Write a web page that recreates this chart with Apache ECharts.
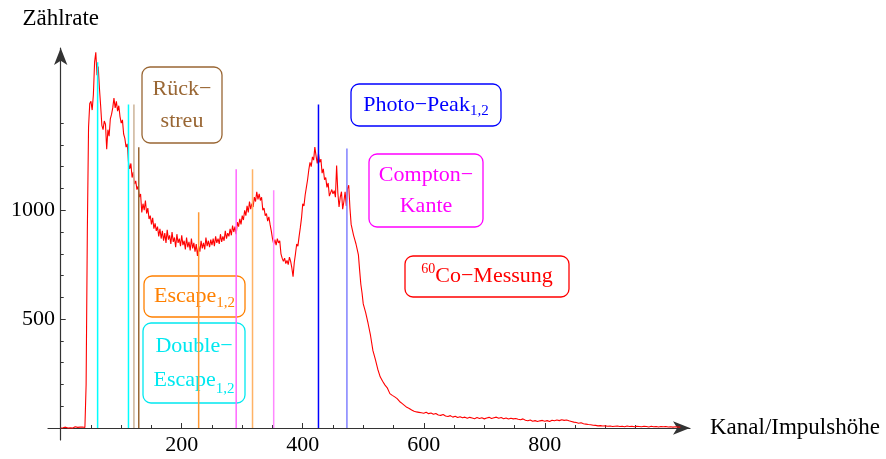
<!DOCTYPE html>
<html>
<head>
<meta charset="utf-8">
<script src="https://cdn.jsdelivr.net/npm/echarts@6/dist/echarts.min.js"></script>
<style>
  html, body { margin: 0; padding: 0; background: #ffffff; }
  #chart { width: 886px; height: 459px; }
</style>
</head>
<body>
<div id="chart"></div>
<script>
// 60Co gamma spectrum, counts per channel.
// Low part: channels 0..498 every 2 channels; high part: channels 500..1024 every 4 channels.
const LOW_START = 0, LOW_STEP = 2;
const countsLow = [
  0, 3, 1, 0, 4, 2, 0, 5, 1, 3,
  0, 2, 6, 1, 3, 0, 4, 2, 5, 1,
  2, 200, 900, 1380, 1490, 1500, 1460, 1530, 1680, 1725,
  1620, 1660, 1560, 1480, 1390, 1370, 1410, 1395, 1280, 1370,
  1340, 1420, 1440, 1470, 1515, 1470, 1500, 1455, 1480, 1430,
  1400, 1415, 1350, 1330, 1290, 1305, 1220, 1190, 1215, 1150,
  1175, 1120, 1135, 1095, 1110, 1060, 1075, 990, 1030, 1000,
  1045, 985, 1010, 960, 975, 935, 965, 915, 940, 905,
  925, 880, 915, 870, 905, 860, 895, 850, 910, 865,
  885, 845, 900, 855, 875, 830, 890, 850, 870, 835,
  885, 840, 860, 820, 875, 830, 855, 815, 870, 825,
  850, 810, 845, 790, 835, 810, 860, 825, 850, 820,
  875, 835, 860, 830, 865, 840, 870, 835, 880, 850,
  870, 845, 890, 855, 880, 860, 905, 870, 895, 880,
  915, 885, 930, 900, 925, 890, 945, 925, 960, 935,
  975, 955, 1000, 975, 1020, 990, 1040, 1005, 1030, 1015,
  1060, 1040, 1085, 1050, 1075, 1045, 1060, 1000, 1010, 975,
  985, 950, 970, 935, 905, 870, 845, 865, 840, 870,
  850, 860, 800, 780, 765, 780, 755, 770, 750, 785,
  765, 735, 695, 760, 800, 845, 835, 880, 920, 965,
  1030, 1020, 1070, 1105, 1140, 1185, 1220, 1200, 1245, 1230,
  1290, 1250, 1215, 1260, 1220, 1235, 1170, 1190, 1140, 1150,
  1105, 1125, 1065, 1080, 1095, 1075, 1090, 1060, 1205, 1080,
  1015, 1060, 1085, 1005, 1040, 1085, 1020, 1100, 1115, 1010,
  935, 910, 885, 865, 845, 820, 795, 725, 660, 620
];
const HIGH_START = 500, HIGH_STEP = 4;
const countsHigh = [
  570, 530, 480, 425, 355,
  315, 270, 235, 215, 197, 183, 158, 150, 143, 135,
  122, 113, 104, 95, 90, 83, 77, 74, 72, 70,
  68, 72, 66, 69, 63, 67, 60, 58, 62, 55,
  53, 57, 50, 54, 48, 52, 47, 50, 45, 49,
  46, 43, 48, 44, 47, 42, 46, 49, 44, 47,
  50, 45, 48, 43, 46, 41, 45, 42, 44, 40,
  38, 42, 36, 33, 37, 31, 34, 30, 33, 35,
  31, 34, 30, 36, 33, 37, 34, 38, 35, 37,
  33, 30, 27, 25, 22, 24, 20, 18, 16, 15,
  13, 12, 10, 11, 9, 10, 8, 9, 7, 8,
  9, 7, 8, 6, 9, 7, 8, 6, 8, 7,
  6, 8, 7, 5, 8, 6, 7, 5, 7, 6,
  7, 5, 6, 4, 6, 5, 4
];

// Marker lines: Double-Escape, Rückstreu, Escape, Compton edge, photo peaks
const markerChannels = [61, 112, 121, 129, 228, 317, 290, 352, 426, 473];
const markerHeights  = [1680, 1486, 1486, 1289, 991, 1188, 1188, 1092, 1486, 1284];

// Axis ticks
const xMajorTicks = [200, 400, 600, 800];
const xMinorTicks = [50, 100, 150, 250, 300, 350, 450, 500, 550, 650, 700, 750, 850, 900, 950];
const yMajorTicks = [500, 1000];
const yMinorTicks = [100, 200, 300, 400, 600, 700, 800, 900, 1100, 1200, 1300, 1400];

const FONT = '"Liberation Serif", "DejaVu Serif", serif';
const AXIS_COLOR = '#333333';
const markerColors = ['#00ffff', '#00ffff', '#ccb399', '#996633', '#ff9933', '#ffb366',
                      '#ff66ff', '#ff88ff', '#0000ff', '#8080ff'];

const spectrum = countsLow.map((v, i) => [LOW_START + i * LOW_STEP, v])
  .concat(countsHigh.map((v, i) => [HIGH_START + i * HIGH_STEP, v]));

const X_MIN = -21, X_MAX = 1040, Y_MIN = -55, Y_MAX = 1745;

const markerSeries = markerChannels.map((ch, i) => ({
  type: 'line',
  data: [[ch, 0], [ch, markerHeights[i]]],
  showSymbol: false,
  silent: true,
  z: 3,
  lineStyle: { color: markerColors[i], width: 1.5 }
}));

const sub = { fontSize: 15, fontFamily: FONT, verticalAlign: 'bottom', lineHeight: 15 };
const sup = { fontSize: 14, fontFamily: FONT, verticalAlign: 'top', lineHeight: 14 };

function labelBox(x, y, w, h, color, text, lineHeight) {
  return {
    type: 'group',
    children: [
      {
        type: 'rect',
        shape: { x: x, y: y, width: w, height: h, r: 8 },
        style: { fill: 'none', stroke: color, lineWidth: 1.3 }
      },
      {
        type: 'text',
        x: x + w / 2,
        y: y + h / 2,
        style: {
          text: text,
          fill: color,
          font: '22px ' + FONT,
          align: 'center',
          verticalAlign: 'middle',
          lineHeight: lineHeight,
          rich: {
            m: { fontSize: 22, fontFamily: FONT, lineHeight: lineHeight, fill: color },
            sub: Object.assign({ fill: color }, sub),
            sup: Object.assign({ fill: color }, sup)
          }
        }
      }
    ]
  };
}

const plainNumber = (v) => String(v);

const chart = echarts.init(document.getElementById('chart'), null, { renderer: 'canvas' });

chart.setOption({
  animation: false,
  backgroundColor: '#ffffff',
  grid: { left: 48, right: 196, top: 48, bottom: 19, containLabel: false, outerBoundsMode: 'none' },
  xAxis: [
    {
      type: 'value', position: 'bottom', min: X_MIN, max: X_MAX,
      axisLine: {
        onZero: true, symbol: ['none', 'arrow'], symbolSize: [10, 17],
        lineStyle: { color: AXIS_COLOR, width: 1.2 }
      },
      axisTick: { inside: true, length: 5, customValues: xMajorTicks, lineStyle: { color: AXIS_COLOR } },
      axisLabel: { customValues: xMajorTicks, formatter: plainNumber, fontFamily: FONT, fontSize: 22, color: '#000', margin: -6 },
      splitLine: { show: false },
      name: 'Kanal/Impulshöhe', nameLocation: 'end', nameGap: 20,
      nameTextStyle: { fontFamily: FONT, fontSize: 23, color: '#000' }
    },
    {
      type: 'value', position: 'bottom', min: X_MIN, max: X_MAX,
      axisLine: { show: false, onZero: true },
      axisTick: { inside: true, length: 3, customValues: xMinorTicks, lineStyle: { color: AXIS_COLOR } },
      axisLabel: { show: false },
      splitLine: { show: false }
    }
  ],
  yAxis: [
    {
      type: 'value', position: 'left', min: Y_MIN, max: Y_MAX,
      axisLine: {
        onZero: true, symbol: ['none', 'arrow'], symbolSize: [10, 17],
        lineStyle: { color: AXIS_COLOR, width: 1.2 }
      },
      axisTick: { inside: true, length: 5, customValues: yMajorTicks, lineStyle: { color: AXIS_COLOR } },
      axisLabel: { customValues: yMajorTicks, formatter: plainNumber, fontFamily: FONT, fontSize: 22, color: '#000', margin: -7 },
      splitLine: { show: false },
      name: 'Zählrate', nameLocation: 'end', nameGap: 18,
      nameTextStyle: { fontFamily: FONT, fontSize: 23, color: '#000' }
    },
    {
      type: 'value', position: 'left', min: Y_MIN, max: Y_MAX,
      axisLine: { show: false, onZero: true },
      axisTick: { inside: true, length: 3, customValues: yMinorTicks, lineStyle: { color: AXIS_COLOR } },
      axisLabel: { show: false },
      splitLine: { show: false }
    }
  ],
  series: [
    {
      type: 'line',
      name: '60Co-Messung',
      data: spectrum,
      showSymbol: false,
      silent: true,
      z: 2,
      lineStyle: { color: '#ff0000', width: 1.1 }
    }
  ].concat(markerSeries),
  graphic: [
    labelBox(142, 67, 80, 76, '#996633', '{m|Rück−}\n{m|streu}', 32),
    labelBox(351, 84, 150, 42, '#0000ff', '{m|Photo−Peak}{sub|1,2}', 28),
    labelBox(369, 154, 114, 73, '#ff00ff', '{m|Compton−}\n{m|Kante}', 31),
    labelBox(405, 256, 164, 41, '#ff0000', '{sup|60}{m|Co−Messung}', 28),
    labelBox(144, 276, 101, 41, '#ff8000', '{m|Escape}{sub|1,2}', 28),
    labelBox(143, 323, 102, 80, '#00e8f0', '{m|Double−}\n{m|Escape}{sub|1,2}', 34)
  ]
});
</script>
</body>
</html>
